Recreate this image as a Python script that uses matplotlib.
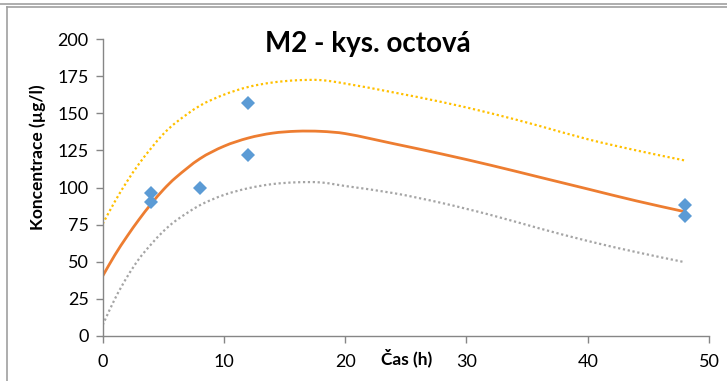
import matplotlib
matplotlib.use("Agg")
import matplotlib.pyplot as plt
import numpy as np
from matplotlib.lines import Line2D
from matplotlib.path import Path
from matplotlib.patches import PathPatch

plt.rcParams['font.family'] = ['Lato', 'DejaVu Sans']

# measured points
meas_x = [4, 4, 8, 12, 12, 48, 48]
meas_y = [96, 90, 100, 157, 122, 88.5, 81]

# fitted curve
fit_x = [0, 1, 2, 3, 4, 5, 6, 8, 10, 12, 14, 16, 18, 20, 24, 28, 32, 36, 40, 44, 48]
fit_mid = [40.4, 54.5, 67, 78.5, 89, 98.5, 106.5, 119.3, 127.8, 133.3, 136.6, 137.9, 137.8, 136.3,
           129.5, 122.5, 115, 107, 99, 91, 83.7]
fit_upper = [75.5, 90.5, 104, 116, 126.5, 136, 143.5, 155, 162.5, 167.7, 170.7, 172.2, 172.3, 170,
             164, 157.5, 150, 141.5, 132.5, 125, 118.2]
fit_lower = [7.4, 24.9, 39.6, 52, 61.8, 70.5, 77.5, 88, 95, 99.5, 102.3, 103.5, 103.4, 101,
             96.2, 89.5, 81.5, 72.5, 64, 56.5, 49.7]

x_ticks = [0, 10, 20, 30, 40, 50]
y_ticks = [0, 25, 50, 75, 100, 125, 150, 175, 200]


def smooth_path(xs, ys):
    """Cubic Hermite (Bezier) path through the given points, like Excel's smoothed line."""
    xs = np.asarray(xs, float)
    ys = np.asarray(ys, float)
    n = len(xs)
    m = np.empty(n)
    m[0] = (ys[1] - ys[0]) / (xs[1] - xs[0])
    m[-1] = (ys[-1] - ys[-2]) / (xs[-1] - xs[-2])
    for i in range(1, n - 1):
        m[i] = (ys[i + 1] - ys[i - 1]) / (xs[i + 1] - xs[i - 1])
    verts = [(xs[0], ys[0])]
    codes = [Path.MOVETO]
    for i in range(n - 1):
        h = xs[i + 1] - xs[i]
        verts += [(xs[i] + h / 3, ys[i] + m[i] * h / 3),
                  (xs[i + 1] - h / 3, ys[i + 1] - m[i + 1] * h / 3),
                  (xs[i + 1], ys[i + 1])]
        codes += [Path.CURVE4] * 3
    return Path(verts, codes)


W, H = 727, 381
fig = plt.figure(figsize=(W / 100, H / 100), dpi=100)

# chart border lines
gray_border = '#A0A0A0'
fig.add_artist(Line2D([0, 1], [1 - 3.5 / H, 1 - 3.5 / H], color=gray_border, lw=1.2))
fig.add_artist(Line2D([6.5 / W, 1], [1 - 6.8 / H, 1 - 6.8 / H], color=gray_border, lw=1.2))
fig.add_artist(Line2D([6.5 / W, 6.5 / W], [0, 1 - 6.8 / H], color=gray_border, lw=1.2))

ax = fig.add_axes([102.7 / W, 1 - 336 / H, (709 - 102.7) / W, (336 - 39) / H])

ax.add_patch(PathPatch(smooth_path(fit_x, fit_upper), fill=False, edgecolor='#FFC000',
                       lw=1.6, ls=(0, (1, 1.2)), capstyle='butt'))
ax.add_patch(PathPatch(smooth_path(fit_x, fit_lower), fill=False, edgecolor='#A5A5A5',
                       lw=1.6, ls=(0, (1, 1.2)), capstyle='butt'))
ax.add_patch(PathPatch(smooth_path(fit_x, fit_mid), fill=False, edgecolor='#ED7D31',
                       lw=2.0, capstyle='round'))
ax.plot(meas_x, meas_y, ls='none', marker='D', markersize=7.5, color='#5B9BD5',
        markeredgewidth=0, zorder=5)

ax.set_xlim(0, 50)
ax.set_ylim(0, 200)
ax.set_xticks(x_ticks)
ax.set_yticks(y_ticks)

axis_color = '#868686'
for s in ['top', 'right']:
    ax.spines[s].set_visible(False)
for s in ['left', 'bottom']:
    ax.spines[s].set_color(axis_color)
    ax.spines[s].set_linewidth(1.0)
ax.tick_params(axis='both', colors=axis_color, length=5, width=1.0, labelsize=13,
               labelcolor='black')
ax.tick_params(axis='x', pad=8)
ax.tick_params(axis='y', pad=5)

fig.text(368 / W, 1 - 44 / H, 'M2 - kys. octová', ha='center', va='center',
         fontsize=20, fontweight='bold')
fig.text(38 / W, 1 - 157 / H, 'Koncentrace (µg/l)', ha='center', va='center',
         rotation=90, fontsize=12.5, fontweight='bold')
fig.text(407 / W, 1 - 358 / H, 'Čas (h)', ha='center', va='center',
         fontsize=12.5, fontweight='bold')

fig.savefig('out.png', dpi=100)
